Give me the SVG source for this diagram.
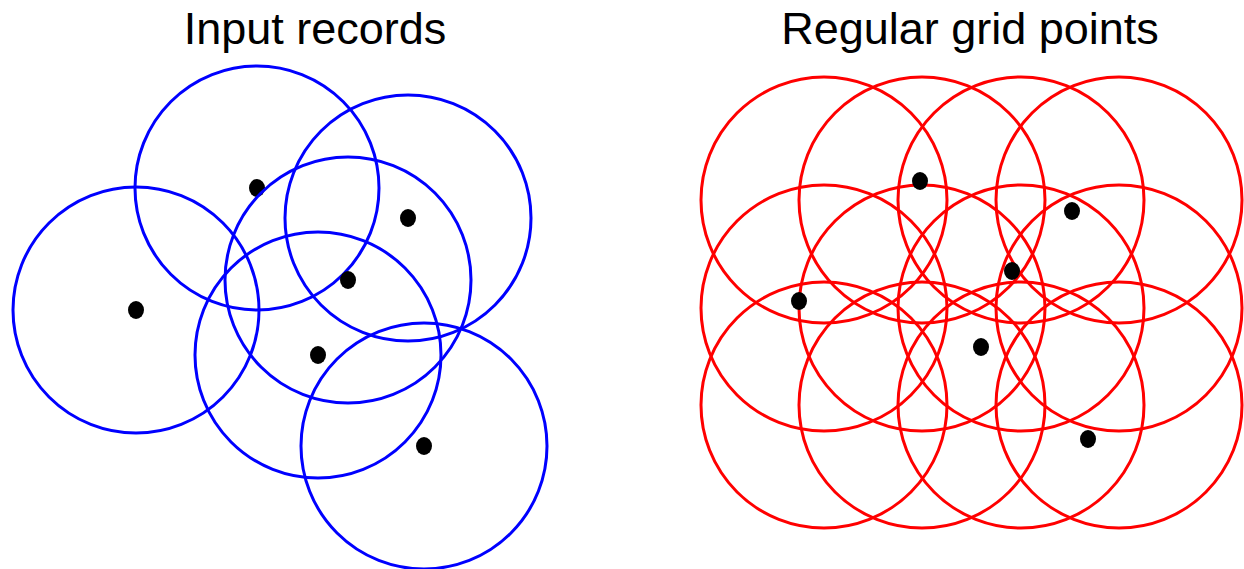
<svg xmlns="http://www.w3.org/2000/svg" width="1244" height="569" viewBox="0 0 1244 569">
<style>
.title{font-family:"Liberation Sans",Arial,sans-serif;font-size:45px;fill:#000;text-anchor:middle}
.blue{fill:none;stroke:#0000ff;stroke-width:3}
.red{fill:none;stroke:#ff0000;stroke-width:3}
.dot{fill:#000}
</style>
<rect width="1244" height="569" fill="#fff"/>
<text class="title" x="315" y="44">Input records</text>
<text class="title" x="970" y="44">Regular grid points</text>
<g id="input-records">
<g id="rec1"><circle class="blue" cx="136" cy="310" r="123"/><ellipse class="dot" cx="136" cy="310" rx="8" ry="9"/></g>
<g id="rec2"><circle class="blue" cx="257" cy="188" r="122"/><ellipse class="dot" cx="257" cy="188" rx="8" ry="9"/></g>
<g id="rec3"><circle class="blue" cx="408" cy="218" r="123"/><ellipse class="dot" cx="408" cy="218" rx="8" ry="9"/></g>
<g id="rec4"><circle class="blue" cx="348" cy="280" r="123"/><ellipse class="dot" cx="348" cy="280" rx="8" ry="9"/></g>
<g id="rec5"><circle class="blue" cx="318" cy="355" r="123"/><ellipse class="dot" cx="318" cy="355" rx="8" ry="9"/></g>
<g id="rec6"><circle class="blue" cx="424" cy="446" r="123"/><ellipse class="dot" cx="424" cy="446" rx="8" ry="9"/></g>
</g>
<g id="grid-points">
<circle class="red" cx="824" cy="200" r="123"/>
<circle class="red" cx="922" cy="200" r="123"/>
<circle class="red" cx="1021" cy="200" r="123"/>
<circle class="red" cx="1119" cy="200" r="123"/>
<circle class="red" cx="824" cy="308" r="123"/>
<circle class="red" cx="922" cy="308" r="123"/>
<circle class="red" cx="1021" cy="308" r="123"/>
<circle class="red" cx="1119" cy="308" r="123"/>
<circle class="red" cx="824" cy="405" r="123"/>
<circle class="red" cx="922" cy="405" r="123"/>
<circle class="red" cx="1021" cy="405" r="123"/>
<circle class="red" cx="1119" cy="405" r="123"/>
</g>
<g id="grid-records">
<ellipse class="dot" cx="920" cy="181" rx="8" ry="9"/>
<ellipse class="dot" cx="1072" cy="211" rx="8" ry="9"/>
<ellipse class="dot" cx="1012" cy="271" rx="8" ry="9"/>
<ellipse class="dot" cx="799" cy="301" rx="8" ry="9"/>
<ellipse class="dot" cx="981" cy="347" rx="8" ry="9"/>
<ellipse class="dot" cx="1088" cy="439" rx="8" ry="9"/>
</g>
</svg>
